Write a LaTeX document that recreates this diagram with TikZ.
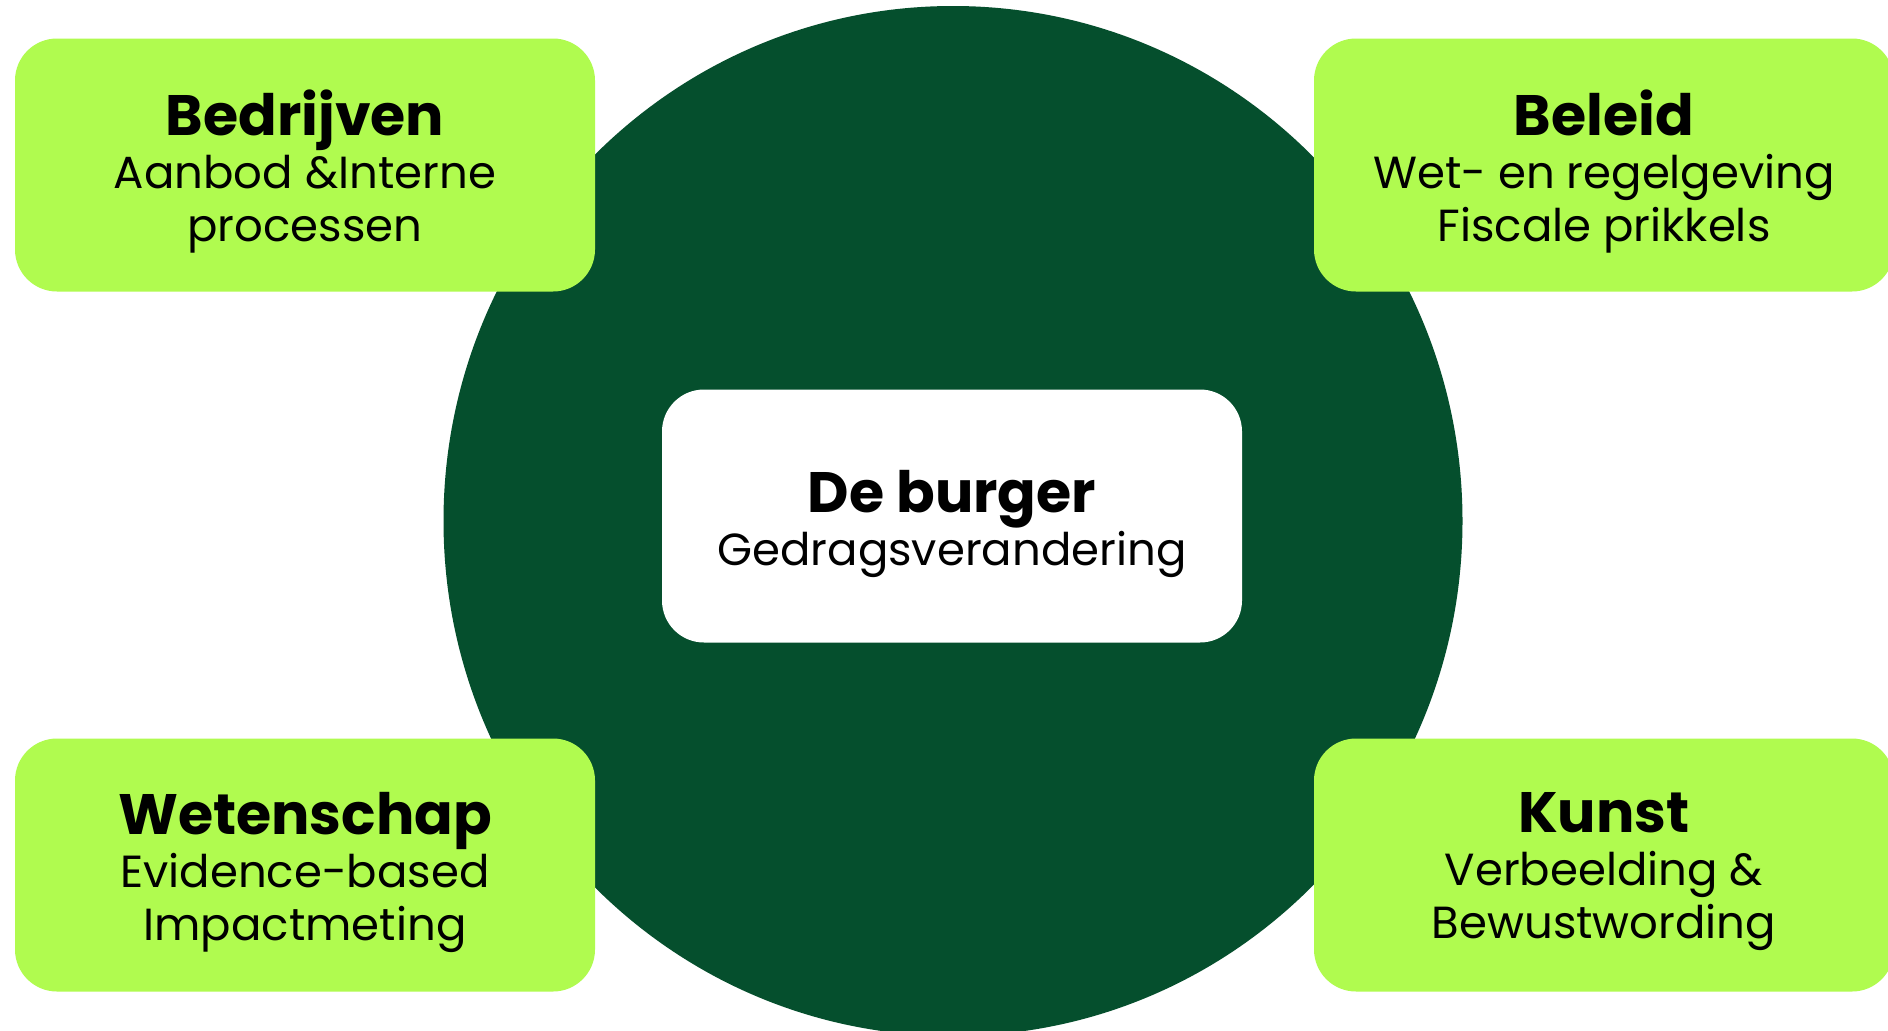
\documentclass[tikz,border=0pt]{standalone}
\usepackage{fontspec}
\setmainfont{Poppins}
\usetikzlibrary{shapes.geometric}

\definecolor{donkergroen}{RGB}{5,79,45}
\definecolor{limoen}{RGB}{176,251,79}

\tikzset{
    vlak/.style={rectangle, rounded corners=42pt, minimum width=580pt, minimum height=253pt, inner sep=0pt},
    sector/.style={vlak, fill=limoen},
    kern/.style={vlak, fill=white},
    tekst/.style={align=center, text=black, inner sep=0pt, font=\fontsize{45}{53}\selectfont},
}
\newcommand{\kop}[1]{{\bfseries\fontsize{57}{53}\selectfont #1}}

\begin{document}
\begin{tikzpicture}[x=1pt,y=-1pt]
    \useasboundingbox (0,0) rectangle (1888,1031);
    \clip (0,0) rectangle (1888,1031);
    \fill[white] (0,0) rectangle (1888,1031);

    \node[ellipse, fill=donkergroen, minimum width=1019pt, minimum height=1030pt, inner sep=0pt] (kring) at (953,521) {};

    \node[sector] (bedrijven) at (305,165) {};
    \node[sector] (beleid) at (1604,165) {};
    \node[sector] (wetenschap) at (305,865) {};
    \node[sector] (kunst) at (1604,865) {};
    \node[kern] (burger) at (952,516) {};

    \node[tekst] (bedrijven-t) at ([yshift=-7pt]bedrijven.center) {\kop{Bedrijven}\\Aanbod \&Interne\\processen};
    \node[tekst] (beleid-t) at ([yshift=-7pt]beleid.center) {\kop{Beleid}\\Wet- en regelgeving\\Fiscale prikkels};
    \node[tekst] (wetenschap-t) at ([yshift=-7pt]wetenschap.center) {\kop{Wetenschap}\\Evidence-based\\Impactmeting};
    \node[tekst] (kunst-t) at ([yshift=-7pt]kunst.center) {\kop{Kunst}\\Verbeelding \&\\Bewustwording};
    \node[tekst] (burger-t) at ([yshift=-8pt]burger.center) {\kop{De burger}\\Gedragsverandering};
\end{tikzpicture}
\end{document}
